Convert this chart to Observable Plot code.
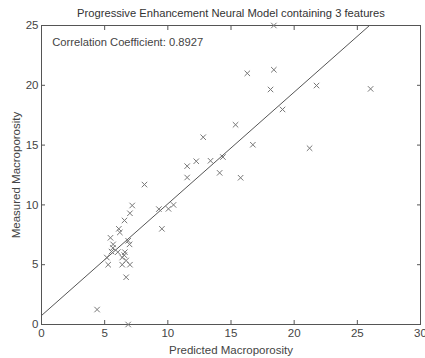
<!DOCTYPE html>
<html>
<head>
<meta charset="utf-8">
<script src="https://cdn.jsdelivr.net/npm/d3@7"></script>
<script src="https://cdn.jsdelivr.net/npm/@observablehq/plot@0.6"></script>
<style>
  html, body { margin: 0; padding: 0; background: #fff; }
  body { width: 425px; height: 358px; overflow: hidden; font-family: "Liberation Sans", Arial, sans-serif; }
  #title { box-sizing: border-box; height: 18px; padding: 8px 4px 0 41px; font-size: 11.2px; line-height: 11px; text-align: center; color: #333; white-space: nowrap; }
</style>
</head>
<body>
<div id="title">Progressive Enhancement Neural Model containing 3 features</div>
<div id="chart"></div>
<script>
const predicted = [4.4, 6.86, 8.15, 7.18, 7.0, 6.57, 6.12, 6.2, 5.46, 5.67, 5.65, 5.54, 6.04, 6.6, 6.86, 6.97, 5.17, 5.28, 6.39, 6.55, 6.7, 6.39, 7.0, 6.7, 9.29, 9.53, 10.05, 10.45, 11.53, 12.25, 11.53, 13.38, 14.36, 14.1, 15.76, 12.8, 15.36, 16.73, 16.29, 18.39, 18.13, 19.08, 21.77, 21.22, 26.05, 18.39];
const measured  = [1.25, 0.0, 11.7, 9.95, 9.3, 8.7, 8.0, 7.7, 7.25, 6.7, 6.4, 6.1, 6.05, 6.05, 7.0, 6.7, 5.6, 5.0, 5.6, 5.8, 5.35, 5.0, 5.0, 3.95, 9.65, 8.0, 9.67, 10.0, 13.24, 13.65, 12.29, 13.69, 14.0, 12.68, 12.27, 15.66, 16.7, 15.03, 21.0, 21.3, 19.65, 17.98, 19.98, 14.74, 19.7, 25.0];
const fitIntercept = 0.75;
const fitSlope = 0.934;
const xTicks = [0, 5, 10, 15, 20, 25, 30];
const yTicks = [0, 5, 10, 15, 20, 25];
const annotation = "Correlation Coefficient: 0.8927";
const xLabel = "Predicted Macroporosity";
const yLabel = "Measured Macroporosity";

const points = predicted.map((x, i) => ({x, y: measured[i]}));
const xTop = (25 - fitIntercept) / fitSlope;
const fit = [{x: 0, y: fitIntercept}, {x: xTop, y: 25}];

const font = "Liberation Sans, Arial, sans-serif";
const chart = Plot.plot({
  width: 425,
  height: 340,
  marginLeft: 41,
  marginRight: 5,
  marginTop: 7,
  marginBottom: 34,
  style: {fontFamily: font, fontSize: "11.5px", color: "#444", background: "#fff", overflow: "visible"},
  x: {domain: [0, 30]},
  y: {domain: [0, 25]},
  marks: [
    Plot.frame({stroke: "#555"}),
    Plot.axisX(xTicks, {anchor: "bottom", tickSize: -4, tickPadding: 8, stroke: "#555", fontSize: 11.5, label: xLabel, labelArrow: "none", labelAnchor: "center", labelOffset: 29}),
    Plot.axisX(xTicks, {anchor: "top", tickSize: -4, tickFormat: () => "", stroke: "#555", label: null}),
    Plot.axisY(yTicks, {anchor: "left", tickSize: -4, tickPadding: 7, stroke: "#555", fontSize: 11.5, label: yLabel, labelArrow: "none", labelAnchor: "center", labelOffset: 30}),
    Plot.axisY(yTicks, {anchor: "right", tickSize: -4, tickFormat: () => "", stroke: "#555", label: null}),
    Plot.line(fit, {x: "x", y: "y", stroke: "#555", strokeWidth: 1}),
    Plot.dot(points, {x: "x", y: "y", symbol: "times", r: 2.6, stroke: "#777", strokeWidth: 1}),
    Plot.text([annotation], {x: 0.85, y: 23.6, text: d => d, textAnchor: "start", fontSize: 11.2, fill: "#444"})
  ]
});
document.getElementById("chart").appendChild(chart);
</script>
</body>
</html>
